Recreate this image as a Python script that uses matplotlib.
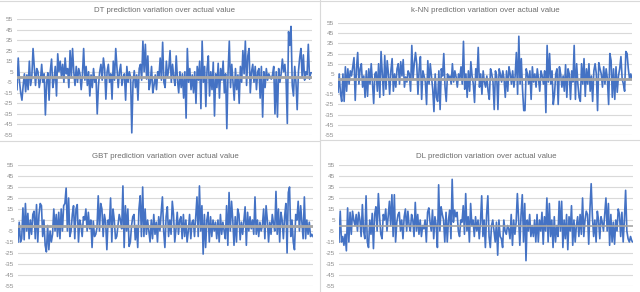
import matplotlib
matplotlib.use("Agg")
import matplotlib.pyplot as plt
from matplotlib.lines import Line2D
import numpy as np

plt.rcParams['font.family'] = ['Liberation Sans', 'DejaVu Sans']
plt.rcParams['axes.unicode_minus'] = False

titles = ["DT prediction variation over actual value",
          "k-NN prediction variation over actual value",
          "GBT prediction variation over actual value",
          "DL prediction variation over actual value"]

yticks = [-55, -45, -35, -25, -15, -5, 5, 15, 25, 35, 45, 55]

dt = [-12, 18, -4, -15, -22, -8, 3, -14, 2, -12, 15, -8, 0, 27, 10, -8, 8, 5, -10, -3, 12, -5, 3, -36,
      -5, 4, -22, 6, 17, -10, -3, 10, -18, 22, 5, 15, 0, 12, -5, 18, 3, 8, -10, 25, 0, 27, 5, -8,
      10, -5, 8, 3, -12, 2, 27, -3, 10, -8, 5, -18, 2, -10, 8, -5, 0, -35, -8, 5, 12, -3, 18, 8,
      -21, 5, 12, -5, 3, -21, 15, -3, 27, 8, -10, 5, 12, -8, 0, 3, -22, 10, -5, 5, 0, -53, -5, 6,
      -10, 2, -22, 8, 12, -3, 34, 5, 31, -2, 20, -12, -5, 10, -15, -8, 2, -12, 5, 0, 18, -3, 33, -5,
      -10, 15, 0, 8, 25, -5, 12, 0, -8, 20, -3, -15, 5, -10, 3, -20, 5, -39, 27, -5, 8, -12, 2, -15,
      5, -25, 10, -3, 15, -30, 34, -5, 10, -28, 8, 20, -18, 5, -12, 14, -37, 3, -10, 13, -20, 8, -3, 15,
      -15, 3, -49, 5, 34, -10, 12, -5, -22, 8, -12, 2, -25, 10, -5, 25, 3, 34, -8, 20, 27, -15, 5, 12,
      -5, 10, -12, 5, 8, -20, 10, -38, 5, -10, 8, -3, 3, 0, -2, 2, 10, -35, 5, -38, 8, -5, 3, 17,
      5, 12, -3, -44, 43, 30, 48, -8, -18, 10, -5, -31, 5, 18, 27, 0, 21, -3, 5, 2, 31, -2, 4, 4]

knn = [-13, 5, -14, -22, 5, -22, 12, -12, 10, -5, 8, 3, 12, 21, -21, 10, 26, -5, 10, 15, -8, 3, -18, 8,
       -17, 10, -5, 15, -3, -24, 5, 7, -12, 15, -18, 27, 5, -16, 23, -10, 18, 5, -15, 8, 20, -12, 5, -8,
       10, 15, -5, 17, 3, 19, -8, 2, -3, 8, 5, -12, 33, 0, 15, 26, 15, -15, 10, 22, -20, 8, 3, -3,
       -25, 18, -5, 15, 3, -10, -32, 5, -18, -22, 8, -30, 10, 3, 25, -8, -22, 5, 0, 3, -5, 15, -3, 8,
       2, -8, 5, 0, 12, -5, 37, -10, 5, -18, 8, -12, 17, 3, -5, -23, 10, 0, 31, -8, 5, -15, 8, -3,
       -8, 3, -12, -20, 10, 5, -3, -30, 8, 3, -30, 10, 5, -3, 8, 0, -18, 8, -12, 12, 5, -5, 8, -8,
       3, 26, -15, 42, -5, 20, -10, -31, -31, 10, 5, -5, 8, -20, 12, -3, 5, -8, 10, 0, -12, 8, 3, -5,
       8, -33, 33, -3, 25, -5, 8, -25, -15, 5, 10, -25, 12, 5, -8, 3, -12, 14, -18, 10, 5, -20, 8, -3,
       33, -20, 15, -5, -18, -22, 15, -5, 20, -17, 10, -5, 15, -12, 3, -22, 8, 15, 5, -31, 16, 10, 5, -8,
       12, -5, 10, 0, -25, 25, 18, -18, 10, -20, 12, -13, 3, 10, 22, 0, -5, -12, 27, 25, 10, 0, 5, 0]

gbt = [-15, 3, -15, -12, 16, -13, 20, -5, 11, -12, 5, -8, 10, 13, -12, 19, -15, 10, 20, 18, -10, 5, -18, -24,
       0, -22, -5, -15, -8, 15, -5, 10, -10, 12, -12, 15, -5, 18, 20, 34, -5, 25, -10, -5, 10, 18, -12, 15,
       19, -15, 5, 0, -10, 8, 5, 15, -5, 12, -3, 5, -20, 4, -10, -8, -2, 27, -5, 20, 15, -10, 10, 3,
       -22, 5, 0, 25, -15, 15, 5, -12, -10, 0, 10, 5, -3, 36, -20, 18, -5, 15, -19, -15, 0, 8, 10, -13,
       0, -20, 15, 27, -10, 35, -10, 15, -8, 5, -5, -15, 5, -12, 10, -8, 3, -15, 8, -5, 12, 26, -5, -20,
       8, 17, -10, 5, -8, 22, 10, -15, -3, 12, -8, 5, 8, -12, 10, -10, 5, -15, -5, 10, -12, 3, 5, -10,
       8, 26, -10, 36, -5, 18, -26, 10, -20, 5, 12, -15, 8, -10, 5, -5, 3, -12, 5, -15, 10, -8, 3, -5,
       -12, 18, -18, 30, -5, 22, 5, -18, 8, -15, 15, 10, -13, 3, -8, 5, 17, -18, 12, -5, 8, -3, 5, -8,
       26, -8, 5, -10, 3, -5, 0, 15, -12, 18, 5, -15, 3, -8, 10, 2, -5, 31, -8, 15, -15, 12, 5, -12,
       8, 20, -25, 30, 35, -10, 5, -15, -22, 10, 5, 22, -5, 18, 3, -12, 26, -12, 5, -8, 3, -10, -8, -10]

dl = [-15, 13, -15, -10, -18, -8, -23, 16, -15, 12, -8, 13, 5, 0, 10, -5, 12, 5, -10, 19, -5, -12, 27, -15,
      -20, 5, -8, 11, -21, 10, 17, -5, 29, 8, -8, -12, 10, 5, 15, -5, 8, 22, 0, 28, -10, 28, -15, 3,
      10, 12, -5, 5, -12, 8, 15, -5, 13, 0, -5, 10, 5, -10, 21, -5, 10, -8, 5, -10, 0, -3, 5, -15,
      12, 16, 3, -5, 14, -12, 8, 0, -20, 37, -5, 17, 10, 5, -15, 12, -15, 5, 14, -12, 42, 3, 14, 8,
      12, -5, -10, 5, 3, 18, -8, 29, -5, 8, -15, 20, 0, 5, -10, 8, -5, 5, -12, 3, 27, -10, 5, -20,
      10, 27, -10, -20, 0, 5, -5, -15, 3, -27, 5, -10, -12, -20, 5, -5, -8, 0, -3, -12, 10, -18, 5, -8,
      3, 29, 5, -18, 10, 28, -15, 20, -32, 5, -5, 10, -10, 0, -10, 5, -15, 10, -15, 5, -5, 12, -17, 8,
      -5, 25, -15, 20, -10, 5, -20, 8, -15, 0, -10, 22, -5, 22, -20, 5, -12, 10, -22, 8, -5, 18, -18, 5,
      -15, 0, 8, -10, 10, -8, 25, -10, 5, 13, 10, -17, 15, 38, 8, -10, 5, -15, 13, 5, -12, 8, 3, -5,
      10, 25, -5, 20, -18, 10, -15, 3, -17, 5, -5, 15, 10, -10, 12, -15, 5, 32, -5, -12, -15, -10, -14, -15]

series = [dt, knn, gbt, dl]
actual_widths = [2.0, 2.0, 2.0, 1.2]

W, H = 640, 292
fig = plt.figure(figsize=(W / 100, H / 100), dpi=100)
fig.patch.set_facecolor('white')

# axes boxes in pixel coords: (left, top, right, bottom)
boxes = [(17, 19, 312, 135), (338, 23, 632, 135), (18, 165, 313, 286), (339, 165, 633, 286)]
title_y = [11, 11, 156, 156]

for i, (vals, (l, t, r, b)) in enumerate(zip(series, boxes)):
    ax = fig.add_axes([l / W, 1 - b / H, (r - l) / W, (b - t) / H])
    x = np.arange(len(vals))
    actual = np.zeros(len(vals))
    ax.plot(x, vals, color='#4472C4', lw=1.2, zorder=3)
    ax.plot(x, actual, color='#A5A5A5', lw=actual_widths[i], zorder=4)
    ax.set_ylim(-55, 55)
    ax.set_xlim(0, len(vals) - 1)
    ax.set_yticks(yticks)
    ax.set_xticks([])
    ax.yaxis.grid(True, color='#D9D9D9', lw=0.8)
    ax.set_axisbelow(True)
    for s in ax.spines.values():
        s.set_visible(False)
    ax.tick_params(axis='y', length=0, labelsize=4.6, labelcolor='#8C8C8C', pad=3)
    fig.text(((l + r) / 2) / W, 1 - title_y[i] / H, titles[i], ha='center', va='center',
             fontsize=5.7, color='#6E6E6E')

# chart box separators
sep = '#D9D9D9'
fig.add_artist(Line2D([320 / W, 320 / W], [0, 1], color=sep, lw=0.8))
fig.add_artist(Line2D([0, 320 / W], [1 - 141 / H, 1 - 141 / H], color=sep, lw=0.8))
fig.add_artist(Line2D([320 / W, 1], [1 - 140 / H, 1 - 140 / H], color=sep, lw=0.8))
fig.add_artist(Line2D([0, 1], [1 - 0.5 / H, 1 - 0.5 / H], color=sep, lw=0.8))

fig.savefig('out.png', dpi=100, facecolor='white')
